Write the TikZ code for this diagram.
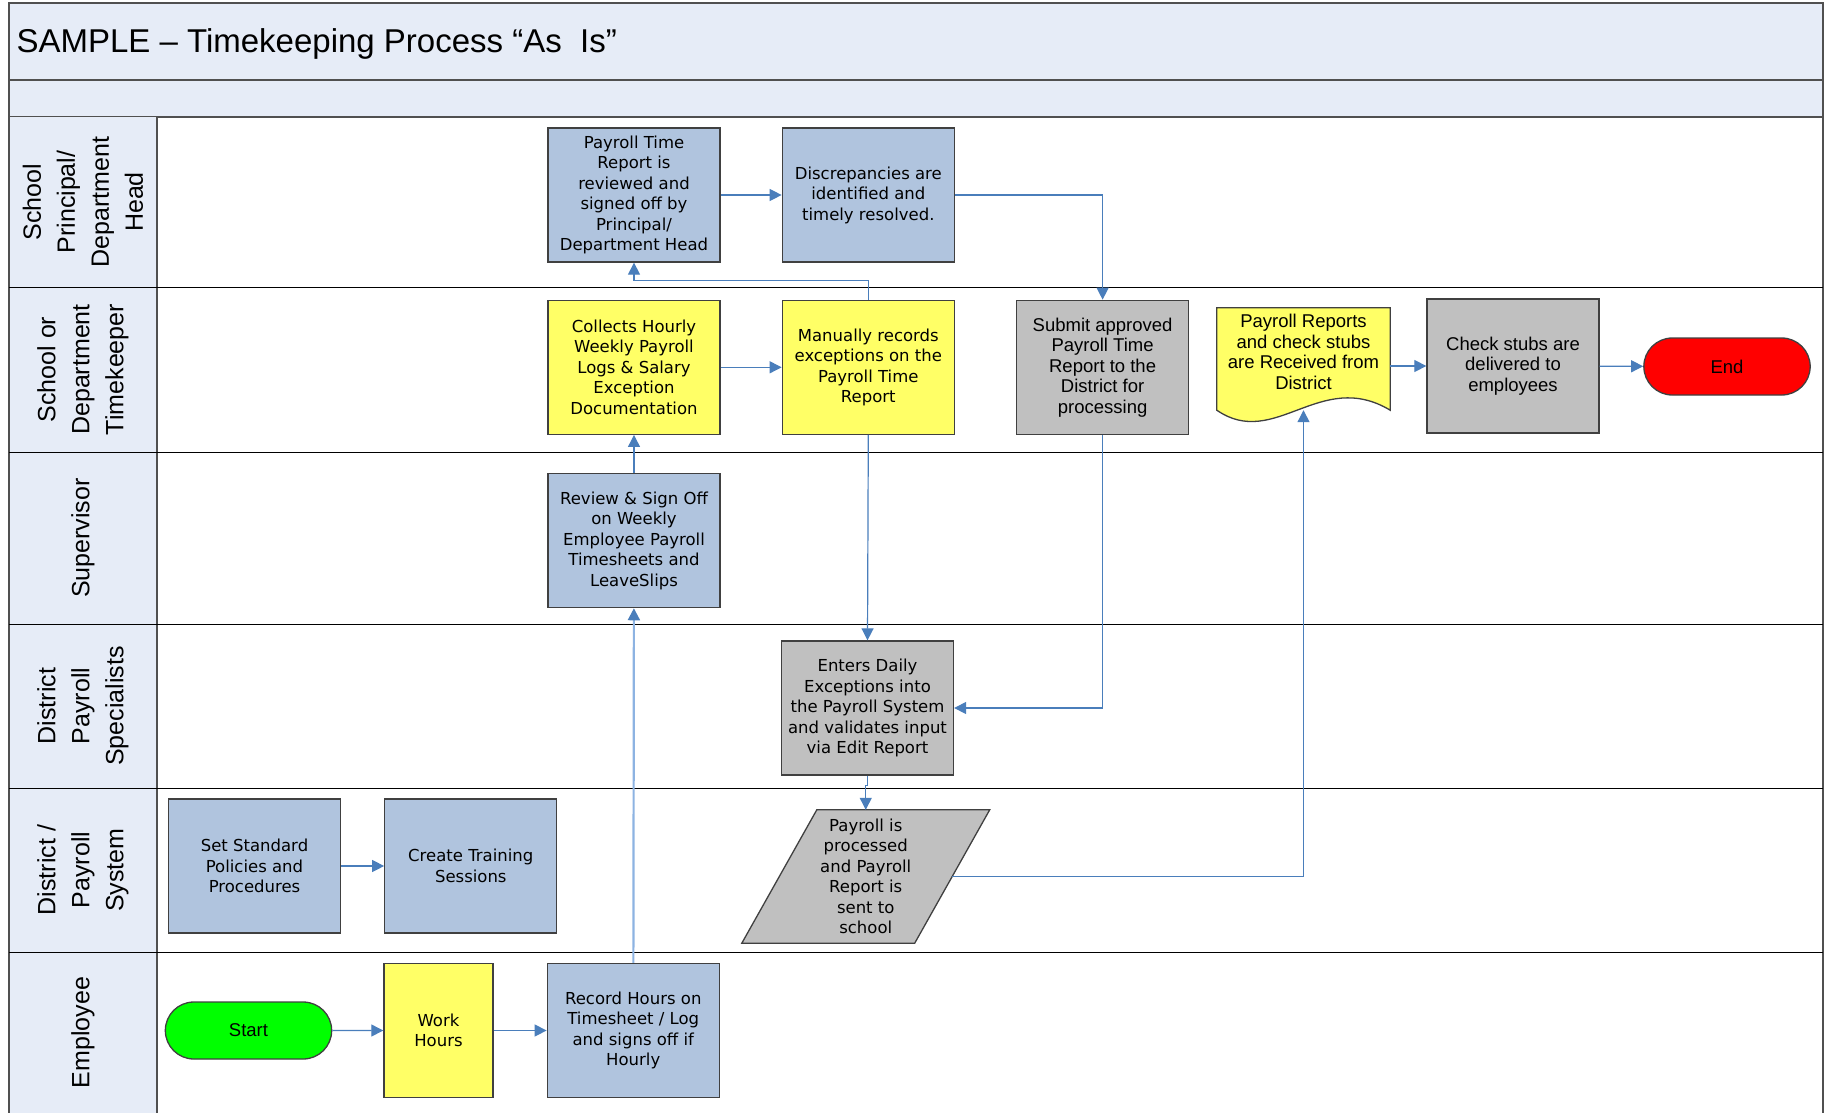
\documentclass[tikz,border=0pt]{standalone}
\usepackage{fontspec}
\newfontfamily\verdfam{DejaVu Sans}
\newfontfamily\arialfam{Liberation Sans}
\usetikzlibrary{arrows.meta,positioning,shapes.misc,backgrounds}

\newcommand\procfont{\verdfam\fontsize{16.5}{20.5}\selectfont}
\newcommand\procfontb{\arialfam\fontsize{18.5}{20.5}\selectfont}
\newcommand\lanefont{\arialfam\fontsize{25}{34}\selectfont}
\newcommand\headfont{\arialfam\fontsize{33}{38}\selectfont}

\definecolor{bandfill}{RGB}{230,236,247}
\definecolor{bandline}{RGB}{80,80,80}
\definecolor{procblue}{RGB}{176,196,222}
\definecolor{procyellow}{RGB}{255,255,102}
\definecolor{procgrey}{RGB}{192,192,192}
\definecolor{boxline}{RGB}{64,64,64}
\definecolor{conn}{RGB}{74,126,187}
\definecolor{connlight}{RGB}{141,179,226}
\definecolor{startgreen}{RGB}{0,255,0}
\definecolor{endred}{RGB}{255,0,0}

\tikzset {
  % header bands and frame
  band/.style = {
    draw = bandline,
    fill = bandfill,
    line width = 1.5pt
  },
  outer frame/.style = {
    draw = bandline,
    line width = 1.5pt
  },
  lane line/.style = {
    draw = black,
    line width = 1pt
  },
  lane name/.style = {
    rotate = 90,
    align = center,
    font = \lanefont
  },
  % connectors
  arr/.style = {
    draw = conn,
    line width = 1.2pt,
    -{Triangle[length=12pt,width=12pt]}
  },
  arr light/.style = {
    draw = connlight,
    line width = 2.2pt,
    -{Triangle[length=12pt,width=12pt,color=conn]}
  }
}
\tikzset {
  proc/.style = {
    draw = boxline,
    line width = 1.3pt,
    rectangle,
    minimum width = 172pt,
    minimum height = 134pt,
    inner sep = 0pt,
    align = center,
    font = \procfont
  },
  blue proc/.style = {proc, fill = procblue},
  yellow proc/.style = {proc, fill = procyellow},
  grey proc/.style = {proc, fill = procgrey},
  % start / end
  terminal/.style = {
    draw = boxline,
    line width = 1.3pt,
    rounded rectangle,
    minimum width = 173pt,
    minimum height = 57pt,
    font = \procfontb
  },
  % outline drawn separately
  docu/.style = {
    rectangle,
    minimum width = 173pt,
    minimum height = 88pt,
    inner sep = 0pt,
    align = center,
    font = \procfontb
  },
  io box/.style = {
    rectangle,
    minimum width = 172.5pt,
    minimum height = 133pt,
    inner sep = 0pt,
    align = center,
    font = \procfont
  },
  shape line/.style = {
    draw = boxline,
    line width = 1.3pt
  },
  node distance = 61pt
}

\begin{document}
\begin{tikzpicture}[x=1pt,y=-1pt]
    \useasboundingbox (0,0) rectangle (1825,1113);

    % header
    \draw[band] (9,3) rectangle (1823,80);
    \draw[band] (9,80) rectangle (1823,117);
    \fill[bandfill] (9,117) rectangle (157,1113);
    \draw[outer frame] (9,117) -- (9,1113);
    \draw[outer frame] (157,117) -- (157,1113);
    \draw[outer frame] (1823,117) -- (1823,1113);

    \node[anchor=west, font=\headfont] (title) at (13,44)
      {SAMPLE – Timekeeping Process “As~~Is”};

    % lanes
    \foreach \y in {287,452,624,788,952}
      \draw[lane line] (9,\y) -- (1823,\y);

    \node[lane name] (lane head) at (83,202)
      {School\\Principal/\\Department\\Head};
    \node[lane name] (lane keeper) at (83,369.5)
      {School or\\Department\\Timekeeper};
    \node[lane name] (lane super) at (83,538) {Supervisor};
    \node[lane name] (lane spec) at (83,706)
      {District\\Payroll\\Specialists};
    \node[lane name] (lane system) at (83,870)
      {District /\\Payroll\\System};
    \node[lane name] (lane employee) at (83,1032.5) {Employee};

    % principal / timekeeper
    \node[blue proc] (time report) at (634,195)
      {Payroll Time\\Report is\\reviewed and\\signed off by\\Principal/\\Department Head};
    \node[blue proc] (discrepancies) [right=of time report]
      {Discrepancies are\\identified and\\timely resolved.};

    \node[yellow proc] (collects) [below=37pt of time report]
      {Collects Hourly\\Weekly Payroll\\Logs \& Salary\\Exception\\Documentation};
    \node[yellow proc] (manual) [right=of collects]
      {Manually records\\exceptions on the\\Payroll Time\\Report};
    \node[grey proc, font=\procfontb] (submit) [right=of manual]
      {Submit approved\\Payroll Time\\Report to the\\District for\\processing};

    \node[docu] (reports) at (1303.5,352)
      {Payroll Reports\\and check stubs\\are Received from\\District};
    \coordinate (reports bottom) at ([yshift=-14pt]reports.south);

    \node[grey proc, font=\procfontb] (check) at (1513,366)
      {Check stubs are\\delivered to\\employees};
    \node[terminal, fill=endred] (end) at (1727,366.5) {End};

    % supervisor / district
    \node[blue proc] (sup review) [below=38pt of collects]
      {Review \& Sign Off\\on Weekly\\Employee Payroll\\Timesheets and\\LeaveSlips};

    \node[grey proc] (enters) at (867.5,708)
      {Enters Daily\\Exceptions into\\the Payroll System\\and validates input\\via Edit Report};

    \node[io box] (para) at (865.75,876.5)
      {Payroll is\\processed\\and Payroll\\Report is\\sent to\\school};

    \node[blue proc] (set policies) at (254.5,866)
      {Set Standard\\Policies and\\Procedures};
    \node[blue proc] (training) [right=43pt of set policies]
      {Create Training\\Sessions};

    % employee
    \node[terminal, fill=startgreen] (start) at (248.5,1030.5) {Start};
    \node[yellow proc, minimum width=109pt] (work) [right=51pt of start]
      {Work\\Hours};
    \node[blue proc] (record) [right=53pt of work]
      {Record Hours on\\Timesheet / Log\\and signs off if\\Hourly};

    % outlines of document and data shapes
    \begin{pgfonlayer}{background}
      \draw[shape line, fill=procyellow]
        ([yshift=-14pt]reports.south east)
        -- (reports.north east)
        -- (reports.north west)
        -- ([yshift=-14pt]reports.south west)
        .. controls +(58,40) and +(-70,-42) .. ([yshift=-14pt]reports.south east)
        -- cycle;
      \draw[shape line, fill=procgrey]
        ([xshift=37.5pt]para.north west)
        -- ([xshift=37.5pt]para.north east)
        -- ([xshift=-37.5pt]para.south east)
        -- ([xshift=-37.5pt]para.south west)
        -- cycle;
    \end{pgfonlayer}

    % main line
    \draw[arr] (start) -- (work);
    \draw[arr] (work) -- (record);
    \draw[arr light] (record) -- (sup review);
    \draw[arr] (sup review) -- (collects);
    \draw[arr] (collects) -- (manual);

    \draw[arr] (manual.north)
      -- ++(0,-19)
      -| (time report.south);
    \draw[arr] (time report) -- (discrepancies);
    \draw[arr] (discrepancies.east) -| (submit.north);

    \draw[arr] (manual.south) -- (enters.north);
    \draw[arr] (submit.south) |- (enters.east);

    \draw[arr] (enters.south)
      -- ++(0,10)
      -| (para.north);
    \draw[arr] (para.east) -| (reports bottom);

    \draw[arr] (reports.east |- check.west) -- (check.west);
    \draw[arr] (check) -- (end);

    % side branch
    \draw[arr] (set policies) -- (training);
\end{tikzpicture}
\end{document}
